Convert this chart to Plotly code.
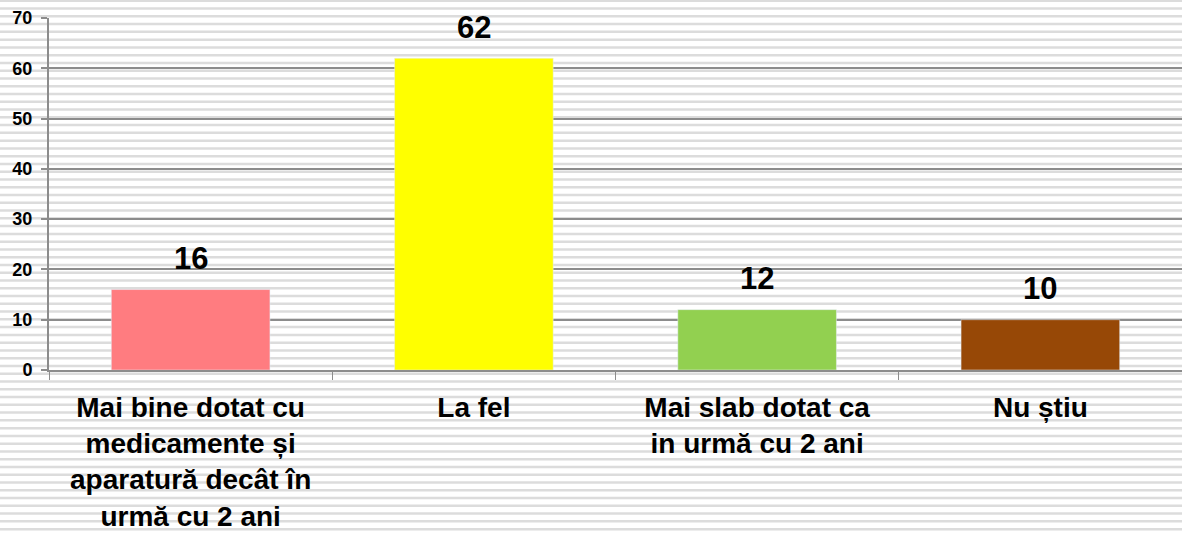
import plotly.graph_objects as go

categories = [
    "Mai bine dotat cu<br>medicamente și<br>aparatură decât în<br>urmă cu 2 ani",
    "La fel",
    "Mai slab dotat ca<br>in urmă cu 2 ani",
    "Nu știu",
]
values = [16, 62, 12, 10]
colors = ["#FF7C80", "#FFFF00", "#92D050", "#974806"]
y_ticks = [0, 10, 20, 30, 40, 50, 60, 70]

W, H = 1182, 533
ML, MR, MT, MB = 49, 0, 18, 163
PW, PH = W - ML - MR, H - MT - MB

fig = go.Figure(go.Bar(
    x=categories, y=values, marker_color=colors, width=0.56,
))

# value labels sit a bit higher above the bars than plotly's outside text
for c, v in zip(categories, values):
    fig.add_annotation(x=c, y=v, text=str(v), showarrow=False,
                       yanchor="middle", yshift=31,
                       font=dict(size=31, color="black", weight="bold"))

# striped background over the whole picture
shapes = []
k = -1
while True:
    top = 7.3 + 7.77 * k
    if top > H:
        break
    y0 = (H - MB - top) / PH
    y1 = (H - MB - top - 2.5) / PH
    shapes.append(dict(type="rect", xref="paper", yref="paper",
                       x0=-ML / PW, x1=1 + MR / PW, y0=y1, y1=y0,
                       fillcolor="#DCDCDC", line_width=0, layer="below"))
    k += 1

fig.update_layout(
    width=W, height=H,
    margin=dict(l=ML, r=MR, t=MT, b=MB),
    paper_bgcolor="white", plot_bgcolor="rgba(0,0,0,0)",
    font=dict(family="Arial, Liberation Sans", color="black"),
    showlegend=False, shapes=shapes,
    xaxis=dict(showline=True, linecolor="#8C8C8C", linewidth=2,
               ticks="outside", tickson="boundaries", ticklen=8,
               tickcolor="#8C8C8C", tickwidth=1, automargin=False,
               ticklabelstandoff=11,
               tickfont=dict(size=28, weight="bold")),
    yaxis=dict(range=[0, 70], tickvals=y_ticks, showline=True,
               linecolor="#8C8C8C", linewidth=2, ticks="outside",
               ticklen=6, tickcolor="#8C8C8C", tickwidth=2,
               gridcolor="#8C8C8C", gridwidth=2, zeroline=False,
               automargin=False, ticklabelstandoff=5,
               tickfont=dict(size=18, weight="bold")),
)

# drop the default page margin so the figure fills the window
fig.write_html("out.html", config={"displayModeBar": False},
               post_script="document.body.style.margin='0px';")
